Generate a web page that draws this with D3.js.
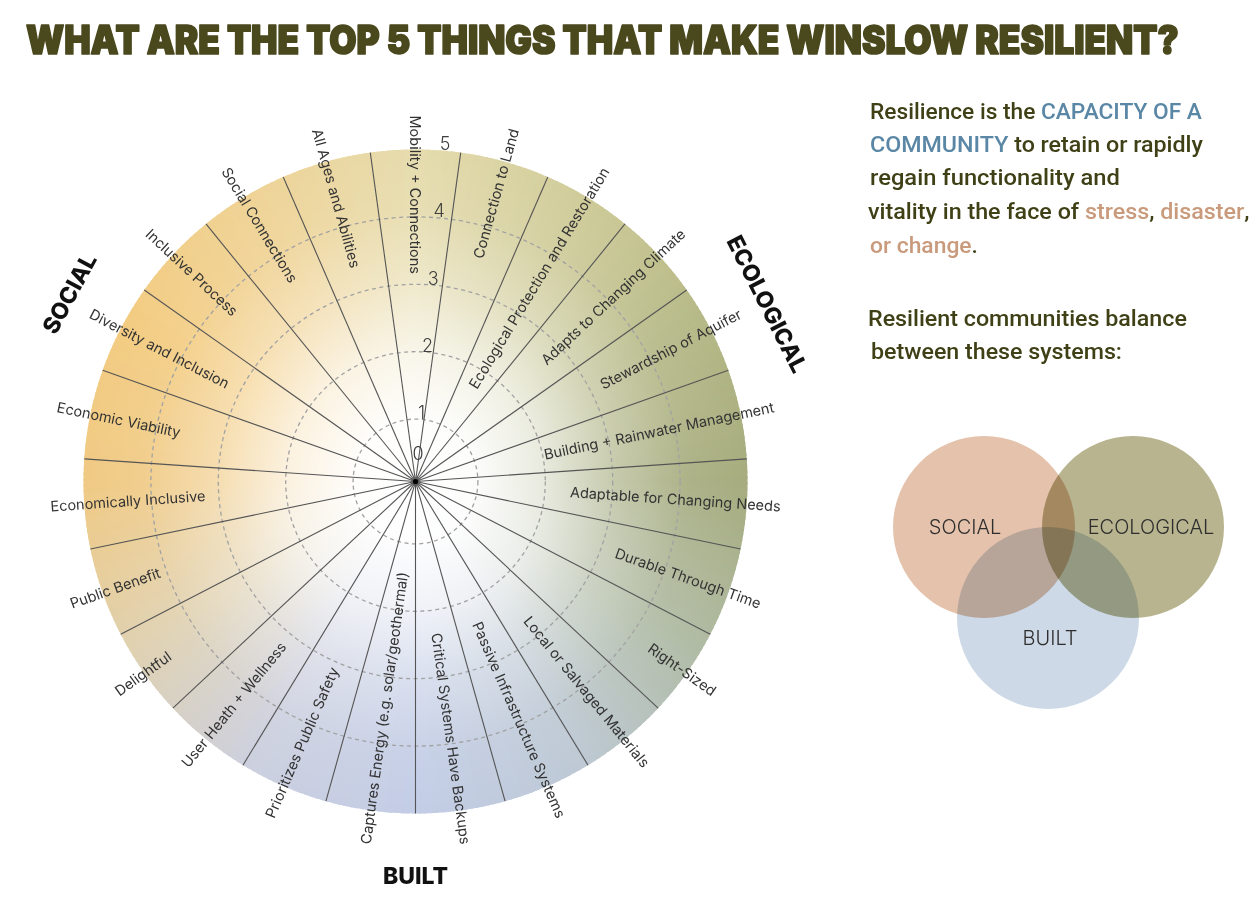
<!DOCTYPE html>
<html>
<head>
<meta charset="utf-8">
<script src="https://cdn.jsdelivr.net/npm/d3@7"></script>
<style>
  html, body { margin: 0; padding: 0; background: #ffffff; }
  svg { display: block; }
</style>
</head>
<body>
<svg id="chart" width="1260" height="911"></svg>
<script>
// ---------------- DATA ----------------
const title = "WHAT ARE THE TOP 5 THINGS THAT MAKE WINSLOW RESILIENT?";

const categories = [
  "Mobility + Connections",
  "Connection to Land",
  "Ecological Protection and Restoration",
  "Adapts to Changing Climate",
  "Stewardship of Aquifer",
  "Building + Rainwater Management",
  "Adaptable for Changing Needs",
  "Durable Through Time",
  "Right-Sized",
  "Local or Salvaged Materials",
  "Passive Infrastructure Systems",
  "Critical Systems Have Backups",
  "Captures Energy (e.g. solar/geothermal)",
  "Prioritizes Public Safety",
  "User Heath + Wellness",
  "Delightful",
  "Public Benefit",
  "Economically Inclusive",
  "Economic Viability",
  "Diversity and Inclusion",
  "Inclusive Process",
  "Social Connections",
  "All Ages and Abilities"
];

const scaleTicks = [0, 1, 2, 3, 4, 5];
const ringValues = [1, 2, 3, 4];

const systems = ["SOCIAL", "ECOLOGICAL", "BUILT"];

const introLines = [
  [["Resilience is the ", "text"], ["CAPACITY OF A", "key"]],
  [["COMMUNITY", "key"], [" to retain or rapidly", "text"]],
  [["regain functionality and", "text"]],
  [["vitality in the face of ", "text"], ["stress", "threat"], [", ", "text"], ["disaster", "threat"], [",", "text"]],
  [["or change", "threat"], [".", "text"]]
];
const balanceLines = [
  "Resilient communities balance",
  "between these systems:"
];

// ---------------- LAYOUT / STYLE ----------------
const svg = d3.select("#chart");
const cx = 415.5, cy = 481.5, R = 332;
const n = categories.length;

const angle = d3.scaleLinear().domain([0, n]).range([0, 360]);   // degrees, clockwise from top
const radius = d3.scaleLinear().domain([0, 5]).range([-5, R]);

// conic colour wheel behind the chart (decorative)
const wheelAngles = [0, 30, 60, 90, 120, 150, 180, 210, 240, 270, 300, 330, 360];
const wheelColors = ["#e6dcae", "#d0cc9a", "#b6b987", "#a6ac7e", "#b0bba4", "#bec9d5",
                     "#c3cde6", "#ccd0df", "#e0d1b0", "#f0ca84", "#f3cc82", "#efd396", "#e6dcae"];
const wheelColor = d3.scaleLinear().domain(wheelAngles).range(wheelColors).interpolate(d3.interpolateRgb);

const defs = svg.append("defs");
const rg = defs.append("radialGradient").attr("id", "whiteCore")
  .attr("cx", "50%").attr("cy", "50%").attr("r", "50%");
[[0, 1], [0.18, 0.97], [0.38, 0.75], [0.6, 0.36], [0.82, 0.08], [1, 0]].forEach(([o, a]) => {
  rg.append("stop").attr("offset", o).attr("stop-color", "#ffffff").attr("stop-opacity", a);
});

const wheel = svg.append("g").attr("transform", `translate(${cx},${cy})`);
const slice = d3.arc().innerRadius(0).outerRadius(R);
const steps = d3.range(0, 360, 1);
wheel.selectAll("path.slice").data(steps).join("path")
  .attr("class", "slice")
  .attr("d", d => slice({ startAngle: d * Math.PI / 180, endAngle: (d + 1.6) * Math.PI / 180 }))
  .attr("fill", d => wheelColor(d + 0.5));
wheel.append("circle").attr("r", R).attr("fill", "url(#whiteCore)");

// dashed rings
wheel.selectAll("circle.ring").data(ringValues).join("circle")
  .attr("class", "ring")
  .attr("r", d => radius(d))
  .attr("fill", "none")
  .attr("stroke", "#a2a2a2")
  .attr("stroke-width", 1.3)
  .attr("stroke-dasharray", "4 3.5");

// sector boundary spokes
const spokeAngles = d3.range(n).map(i => angle(i + 0.5));
wheel.selectAll("line.spoke").data(spokeAngles).join("line")
  .attr("class", "spoke")
  .attr("x1", 0).attr("y1", 0)
  .attr("x2", d => R * Math.sin(d * Math.PI / 180))
  .attr("y2", d => -R * Math.cos(d * Math.PI / 180))
  .attr("stroke", "#555")
  .attr("stroke-width", 1.1);

wheel.append("circle").attr("r", 5).attr("fill", "#555").attr("opacity", 0.5);
wheel.append("circle").attr("r", 2.6).attr("fill", "#000");

// scale numbers
const tickRay = 5 * Math.PI / 180;
wheel.selectAll("text.tick").data(scaleTicks).join("text")
  .attr("class", "tick")
  .attr("x", d => (d === 0 ? 28 : radius(d) + 7) * Math.sin(tickRay))
  .attr("y", d => -(d === 0 ? 28 : radius(d) + 7) * Math.cos(tickRay))
  .attr("dy", "0.36em")
  .attr("text-anchor", "middle")
  .attr("font-family", "Inter, 'Open Sans', sans-serif")
  .attr("font-weight", 300)
  .attr("font-size", 18)
  .attr("fill", "#3e3e3e")
  .text(d => d);

// category labels
const labelR = 366;
const lab = wheel.selectAll("g.cat").data(categories).join("g")
  .attr("class", "cat")
  .attr("transform", (d, i) => `rotate(${angle(i) - 90})`);
lab.append("text")
  .attr("x", labelR)
  .attr("y", 0)
  .attr("dy", "0.35em")
  .attr("text-anchor", (d, i) => (angle(i) > 0 && angle(i) < 180) ? "end" : "start")
  .attr("transform", (d, i) => (angle(i) > 0 && angle(i) < 180) ? null : `rotate(180,${labelR},0)`)
  .attr("font-family", "Inter, 'Open Sans', sans-serif")
  .attr("font-size", 14.5)
  .attr("fill", "#333")
  .text(d => d);

// system names round the wheel
const sysLayout = { SOCIAL: 298.5, ECOLOGICAL: 63.2, BUILT: 180 };
const sysR = 394;
wheel.selectAll("text.sys").data(systems).join("text")
  .attr("class", "sys")
  .attr("transform", d => {
    const a = sysLayout[d];
    const x = sysR * Math.sin(a * Math.PI / 180), y = -sysR * Math.cos(a * Math.PI / 180);
    let rot = a > 90 && a < 270 ? a - 180 : a;
    return `translate(${x},${y}) rotate(${rot})`;
  })
  .attr("text-anchor", "middle")
  .attr("dy", "0.36em")
  .attr("font-family", "Inter, 'DejaVu Sans', sans-serif")
  .attr("font-weight", 800)
  .attr("font-size", 23)
  .attr("fill", "#111")
  .text(d => d);

// title
const titleText = svg.append("text")
  .attr("x", 0).attr("y", 0)
  .attr("font-family", "Inter, Lato, sans-serif")
  .attr("font-weight", 900)
  .attr("font-size", 35)
  .attr("fill", "#4a481d")
  .attr("stroke", "#4a481d")
  .attr("stroke-width", 1.5)
  .attr("stroke-linejoin", "round")
  .text(title);
{
  const w = titleText.node().getComputedTextLength();
  titleText.attr("transform", `translate(26,53.5) scale(${1153 / w},1.12)`);
}

// explanatory paragraph
const textColors = { text: "#3f4016", key: "#5b87a6", threat: "#c99a7b" };
const paraFont = "Roboto, 'Liberation Sans', sans-serif";
function fitLine(sel, x, y, target) {
  const w = sel.node().getComputedTextLength();
  sel.attr("transform", `translate(${x},${y}) scale(${target / w},1)`);
}
const introLayout = [[870, 119, 332], [870, 152, 333], [870, 185, 250], [868, 219, 380], [870, 253, 108]];
introLines.forEach((segs, i) => {
  const t = svg.append("text")
    .attr("font-family", paraFont).attr("font-weight", 500).attr("font-size", 22.5);
  segs.forEach(([s, k]) => t.append("tspan").attr("fill", textColors[k]).text(s));
  const [x, y, w] = introLayout[i];
  fitLine(t, x, y, w);
});
const balLayout = [[868, 326, 319], [871, 359, 251]];
balanceLines.forEach((s, i) => {
  const t = svg.append("text")
    .attr("font-family", paraFont).attr("font-weight", 500).attr("font-size", 22.5)
    .attr("fill", textColors.text).text(s);
  const [x, y, w] = balLayout[i];
  fitLine(t, x, y, w);
});

// Venn diagram of the three systems
const vennLayout = {
  SOCIAL:     { x: 984,  y: 527, fill: "#e4c2ab", lx: 965,  ly: 527 },
  ECOLOGICAL: { x: 1133, y: 527, fill: "#b8b48f", lx: 1151, ly: 527 },
  BUILT:      { x: 1048, y: 618, fill: "#cdd9e6", lx: 1050, ly: 638 }
};
const venn = svg.append("g").style("isolation", "isolate");
venn.selectAll("circle").data(systems).join("circle")
  .attr("cx", d => vennLayout[d].x)
  .attr("cy", d => vennLayout[d].y)
  .attr("r", 91)
  .attr("fill", d => vennLayout[d].fill)
  .style("mix-blend-mode", "multiply");
svg.selectAll("text.vlab").data(systems).join("text")
  .attr("class", "vlab")
  .attr("x", d => vennLayout[d].lx)
  .attr("y", d => vennLayout[d].ly)
  .attr("dy", "0.36em")
  .attr("text-anchor", "middle")
  .attr("font-family", "Inter, 'Open Sans', sans-serif")
  .attr("font-weight", 300)
  .attr("font-size", 20)
  .attr("fill", "#2e2e2e")
  .text(d => d);
</script>
</body>
</html>
